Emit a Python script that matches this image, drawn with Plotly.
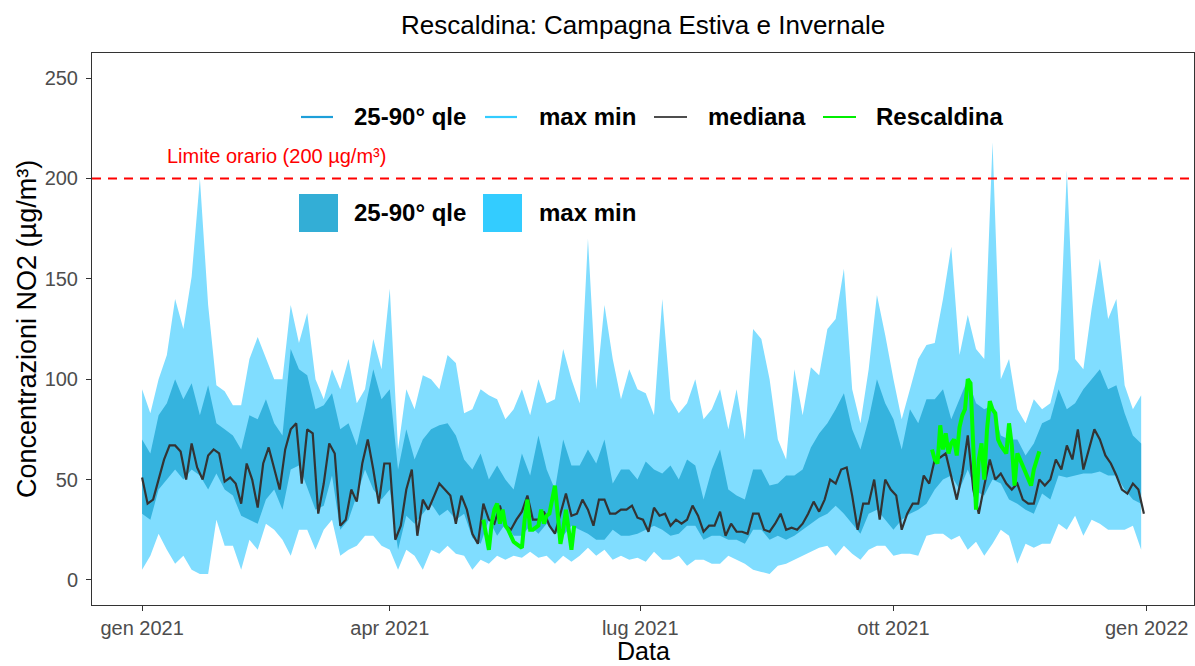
import pandas as pd
import plotly.graph_objects as go

# ---------------------------------------------------------------
# Daily NO2 statistics of the regional network, 2021 (µg/m³)
# band values sampled every 3 days, median every 2 days
# ---------------------------------------------------------------
band_start = "2021-01-01"

net_max = [95, 83, 100, 112, 140, 125, 151, 200, 137, 97,
           94, 87, 87, 110, 121, 110, 100, 100, 137, 118,
           133, 100, 90, 105, 95, 110, 88, 95, 120, 105,
           145, 65, 95, 85, 102, 100, 95, 112, 108, 83,
           85, 95, 92, 90, 80, 85, 95, 82, 100, 88,
           90, 115, 100, 88, 170, 95, 137, 110, 90, 105,
           95, 93, 82, 140, 90, 83, 88, 100, 80, 85,
           95, 75, 95, 70, 125, 120, 100, 70, 60, 105,
           82, 106, 102, 125, 130, 155, 95, 78, 105, 142,
           122, 100, 80, 95, 110, 117, 118, 140, 166, 112,
           132, 115, 110, 218, 100, 110, 85, 78, 90, 85,
           88, 105, 204, 110, 105, 135, 160, 130, 140, 97,
           85, 92]

net_q90 = [70, 63, 82, 88, 100, 90, 98, 82, 97, 78,
           75, 72, 65, 82, 80, 90, 78, 72, 115, 105,
           102, 85, 87, 93, 75, 78, 67, 85, 105, 90,
           95, 55, 75, 60, 70, 75, 77, 78, 72, 60,
           55, 63, 50, 57, 50, 45, 63, 52, 72, 55,
           45, 70, 57, 57, 65, 58, 70, 48, 55, 55,
           50, 59, 55, 53, 57, 50, 60, 57, 40, 55,
           65, 45, 42, 40, 55, 55, 47, 48, 52, 52,
           55, 66, 73, 78, 85, 93, 75, 65, 80, 100,
           88, 80, 65, 85, 78, 90, 90, 95, 80, 90,
           100, 88, 85, 87, 72, 70, 70, 62, 68, 78,
           80, 95, 85, 88, 95, 100, 105, 95, 97, 83,
           72, 68]

net_q25 = [33, 30, 45, 50, 55, 50, 55, 52, 45, 53,
           45, 42, 32, 30, 28, 40, 45, 35, 55, 57,
           46, 35, 37, 52, 25, 30, 42, 55, 45, 40,
           45, 15, 32, 28, 33, 38, 32, 35, 30, 33,
           21, 18, 30, 22, 28, 22, 22, 27, 23, 28,
           24, 22, 27, 25, 23, 20, 20, 25, 22, 22,
           23, 25, 27, 25, 22, 23, 27, 27, 20, 22,
           22, 20, 20, 18, 25, 25, 20, 22, 20, 22,
           25, 28, 31, 33, 37, 33, 28, 23, 33, 35,
           30, 25, 30, 33, 35, 38, 45, 50, 52, 45,
           55, 44, 42, 50, 48, 40, 38, 35, 33, 43,
           40, 52, 51, 52, 53, 53, 54, 52, 52, 45,
           40, 38]

net_min = [5, 12, 23, 15, 8, 12, 5, 3, 3, 30,
           17, 17, 5, 20, 15, 28, 25, 20, 12, 25,
           25, 15, 25, 30, 12, 15, 17, 22, 22, 17,
           15, 5, 15, 12, 5, 15, 13, 17, 13, 12,
           5, 10, 8, 12, 10, 12, 11, 14, 11, 12,
           8, 12, 9, 12, 16, 12, 15, 10, 12, 10,
           11, 9, 14, 10, 10, 12, 7, 10, 10, 8,
           8, 12, 10, 8, 5, 4, 3, 7, 8, 10,
           12, 14, 16, 17, 12, 17, 13, 10, 15, 17,
           17, 12, 13, 13, 12, 22, 23, 23, 20, 22,
           15, 19, 12, 18, 25, 22, 8, 18, 16, 18,
           18, 28, 25, 32, 22, 30, 28, 25, 25, 25,
           27, 15]

net_median = [51, 38, 40, 50, 60, 67, 67, 64, 50, 68,
              56, 50, 62, 65, 63, 49, 51, 48, 38, 58,
              50, 36, 58, 66, 55, 45, 65, 75, 78, 48,
              75, 73, 33, 48, 68, 63, 27, 30, 45, 39,
              58, 70, 55, 38, 58, 58, 20, 27, 45, 55,
              22, 40, 35, 42, 48, 45, 42, 28, 42, 35,
              23, 18, 38, 30, 28, 37, 27, 25, 30, 34,
              42, 30, 30, 34, 27, 23, 33, 43, 32, 33,
              40, 35, 27, 40, 40, 33, 33, 35, 35, 37,
              31, 30, 24, 36, 32, 33, 27, 30, 28, 30,
              37, 32, 24, 27, 27, 34, 22, 28, 24, 24,
              23, 33, 33, 25, 24, 28, 33, 25, 26, 25,
              28, 33, 39, 34, 40, 50, 48, 55, 56, 42,
              25, 38, 38, 50, 30, 50, 45, 42, 25, 33,
              38, 38, 52, 48, 60, 61, 63, 52, 40, 53,
              72, 45, 33, 47, 60, 50, 53, 48, 45, 48,
              40, 38, 38, 50, 47, 50, 60, 55, 67, 60,
              75, 55, 65, 75, 70, 62, 58, 52, 45, 43,
              48, 45, 33]

# Rescaldina campaigns (daily means)
summer_start = "2021-05-05"
rescaldina_summer = [30, 22, 15, 28, 35, 38, 28, 35, 27, 25,
                     22, 19, 18, 17, 16, 30, 40, 25, 25, 26,
                     27, 35, 28, 32, 33, 40, 47, 33, 18, 25,
                     35, 25, 15, 27]
winter_start = "2021-10-15"
rescaldina_winter = [65, 60, 58, 77, 65, 73, 63, 68, 70, 62,
                     76, 82, 85, 100, 98, 62, 35, 60, 68, 50,
                     75, 89, 85, 83, 70, 67, 65, 63, 78, 67,
                     47, 63, 60, 57, 53, 50, 47, 55, 60, 64]

LIMIT = 200
tick_dates = ["2021-01-01", "2021-04-01", "2021-07-01", "2021-10-01", "2022-01-01"]
tick_labels = ["gen 2021", "apr 2021", "lug 2021", "ott 2021", "gen 2022"]
y_ticks = [0, 50, 100, 150, 200, 250]

# ---------------------------------------------------------------
band_x = pd.date_range(band_start, periods=len(net_max), freq="3D")
med_x = pd.date_range(band_start, periods=len(net_median), freq="2D")
summer_x = pd.date_range(summer_start, periods=len(rescaldina_summer), freq="D")
winter_x = pd.date_range(winter_start, periods=len(rescaldina_winter), freq="D")

LIGHT = "#80DDFF"
DARK = "#35B3DE"
FONT = "Liberation Sans, Arial, sans-serif"


def ribbon(x, upper, lower, color):
    xs = list(x) + list(x)[::-1]
    ys = list(upper) + list(lower)[::-1]
    return go.Scatter(x=xs, y=ys, fill="toself", fillcolor=color, mode="lines",
                      line=dict(width=0), hoverinfo="skip", showlegend=False)


fig = go.Figure()
fig.add_trace(ribbon(band_x, net_max, net_min, LIGHT))
fig.add_trace(ribbon(band_x, net_q90, net_q25, DARK))
fig.add_trace(go.Scatter(x=med_x, y=net_median, mode="lines",
                         line=dict(color="#333333", width=2.2), showlegend=False))
for xs, ys in [(summer_x, rescaldina_summer), (winter_x, rescaldina_winter)]:
    fig.add_trace(go.Scatter(x=xs, y=ys, mode="lines",
                             line=dict(color="#00FF00", width=4), showlegend=False))

# x range with 5% padding on each side of the data span
x0 = band_x[0]
x1 = med_x[-1]
span = x1 - x0
x_range = [x0 - span * 0.05, x1 + span * 0.05]

# page geometry (pixels)
W, H = 1195, 666
ML, MR, MT, MB = 92, 1, 53, 61
PW, PH = W - ML - MR, H - MT - MB


def px(xp):
    return (xp - ML) / PW


def py(yp):
    return (H - MB - yp) / PH


shapes = [dict(type="line", xref="paper", x0=0, x1=1, yref="y", y0=LIMIT, y1=LIMIT,
               line=dict(color="#FF0000", width=2, dash="9px,7px"), layer="above")]
annotations = [
    dict(text="Limite orario (%d µg/m³)" % LIMIT, x="2021-02-19", y=LIMIT + 11,
         xref="x", yref="y", showarrow=False, font=dict(family=FONT, size=20, color="#FF0000")),
    dict(text="Rescaldina: Campagna Estiva e Invernale", x=0.5, y=py(25), xref="paper",
         yref="paper", showarrow=False, yanchor="middle",
         font=dict(family=FONT, size=26, color="#000000")),
    dict(text="Data", x=0.5, y=py(666), xref="paper", yref="paper", showarrow=False,
         yanchor="bottom", borderpad=0, font=dict(family=FONT, size=25, color="#000000")),
    dict(text="Concentrazioni NO2 (µg/m³)", x=px(27), y=0.5, xref="paper", yref="paper",
         showarrow=False, textangle=-90, xanchor="center", yanchor="middle",
         font=dict(family=FONT, size=27, color="#000000")),
]

# legend: line keys
line_keys = [("25-90° qle", "#1E9FD9", 301, 333, 352),
             ("max min", "#33CCFF", 485, 517, 537),
             ("mediana", "#4D4D4D", 654, 687, 706),
             ("Rescaldina", "#00EE00", 823, 856, 874)]
for label, col, a, b, t in line_keys:
    shapes.append(dict(type="line", xref="paper", yref="paper", x0=px(a), x1=px(b),
                       y0=py(117), y1=py(117), line=dict(color=col, width=2.2)))
    annotations.append(dict(text="<b>%s</b>" % label, x=px(t), y=py(117), xref="paper",
                            yref="paper", xanchor="left", yanchor="middle", showarrow=False,
                            font=dict(family=FONT, size=24, color="#000000")))

# legend: fill keys
fill_keys = [("25-90° qle", "#33AED6", 299, 338, 352),
             ("max min", "#33CCFF", 483, 522, 537)]
for label, col, a, b, t in fill_keys:
    shapes.append(dict(type="rect", xref="paper", yref="paper", x0=px(a), x1=px(b),
                       y0=py(232), y1=py(194), line=dict(width=0), fillcolor=col))
    annotations.append(dict(text="<b>%s</b>" % label, x=px(t), y=py(213), xref="paper",
                            yref="paper", xanchor="left", yanchor="middle", showarrow=False,
                            font=dict(family=FONT, size=24, color="#000000")))

axis_common = dict(showgrid=False, zeroline=False, showline=True, mirror=True,
                   linecolor="#333333", linewidth=1, ticks="outside", ticklen=5,
                   tickcolor="#333333", tickwidth=1,
                   tickfont=dict(family=FONT, size=20, color="#4D4D4D"))

fig.update_layout(
    width=W, height=H,
    margin=dict(l=ML, r=MR, t=MT, b=MB),
    plot_bgcolor="white", paper_bgcolor="white",
    showlegend=False,
    xaxis=dict(type="date", range=x_range, tickvals=tick_dates, ticktext=tick_labels,
               **axis_common),
    yaxis=dict(range=[-12.5, 262.5], tickvals=y_ticks, ticklabelstandoff=4, **axis_common),
    shapes=shapes,
    annotations=annotations,
)

fig.write_html("out.html")
